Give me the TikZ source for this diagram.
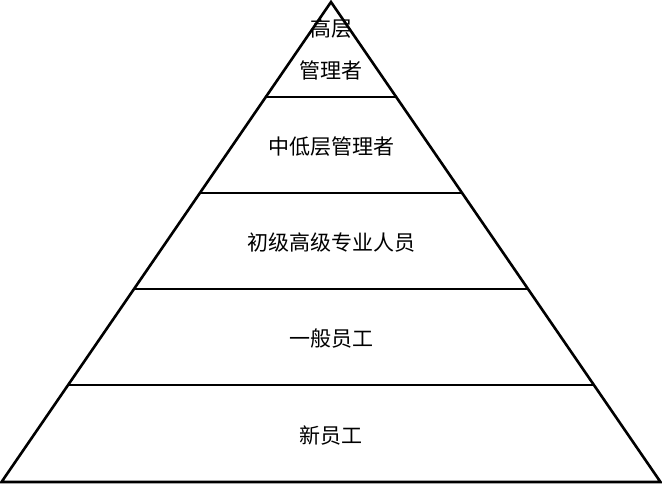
\documentclass[tikz,border=0pt]{standalone}
\usepackage{fontspec}
\newfontfamily\cjk{Noto Sans CJK SC}
\begin{document}
\begin{tikzpicture}[x=1pt,y=-1pt,
  edge/.style={line width=2.6pt,line join=miter},
  lbl/.style={font=\cjk\fontsize{21}{42}\selectfont,align=center,inner sep=0pt}]
\useasboundingbox (0,0) rectangle (662,485);
\coordinate (top) at (331,2);
\coordinate (bl) at (1.5,482);
\coordinate (br) at (660.5,482);
\draw[edge] (bl) -- (top) -- (br) -- cycle;
\coordinate (al) at (265.4,97);  \coordinate (ar) at (396.6,97);
\coordinate (bbl) at (199.5,193); \coordinate (bbr) at (462.5,193);
\coordinate (cl) at (133.5,289); \coordinate (cr) at (528.5,289);
\coordinate (dl) at (67.6,385);  \coordinate (dr) at (594.4,385);
\draw[edge] (al) -- (ar);
\draw[edge] (bbl) -- (bbr);
\draw[edge] (cl) -- (cr);
\draw[edge] (dl) -- (dr);
\node[lbl] (t1) at (331,49) {高层\\管理者};
\node[lbl] (t2) at (331,147) {中低层管理者};
\node[lbl] (t3) at (331,243) {初级高级专业人员};
\node[lbl] (t4) at (331,339) {一般员工};
\node[lbl] (t5) at (331,436) {新员工};
\end{tikzpicture}
\end{document}
